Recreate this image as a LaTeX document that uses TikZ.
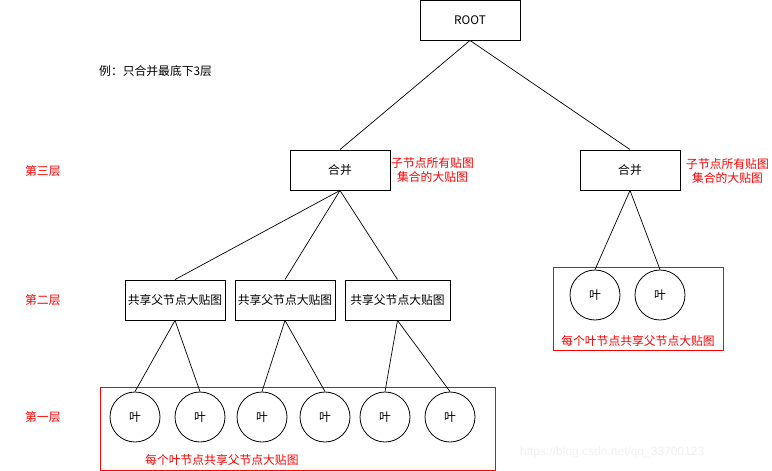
\documentclass[tikz,border=0pt]{standalone}
\usepackage{fontspec}
\setmainfont{Liberation Sans}
\newfontfamily\cjk{Noto Sans CJK SC}
\begin{document}
\begin{tikzpicture}[x=1pt,y=-1pt,
  box/.style={draw=black,line width=0.9pt,minimum width=100pt,minimum height=40pt,inner sep=0pt,font=\cjk\fontsize{11.8}{13}\selectfont},
  leaf/.style={draw=black,circle,line width=0.8pt,minimum size=50pt,inner sep=0pt,font=\cjk\fontsize{11.8}{13}\selectfont},
  redbox/.style={draw=red,line width=0.8pt},
  redtxt/.style={text=red,font=\cjk\fontsize{11.8}{13.5}\selectfont,align=center,inner sep=0pt},
  lbl/.style={font=\cjk\fontsize{11.8}{13}\selectfont,inner sep=0pt},
  edge/.style={draw=black,line width=0.7pt}]
\useasboundingbox (0,0) rectangle (772,471);
% red group boxes
\node[redbox,minimum width=395pt,minimum height=83pt,inner sep=0pt] (grpL) at (297.5,428.5) {};
\node[redbox,minimum width=170pt,minimum height=83pt,inner sep=0pt] (grpR) at (638,308.5) {};
% nodes
\node[box] (root) at (470,20) {ROOT};
\node[box] (mL) at (340,170) {合并};
\node[box] (mR) at (630,170) {合并};
\node[box] (s1) at (175,300) {共享父节点大贴图};
\node[box] (s2) at (285,300) {共享父节点大贴图};
\node[box,minimum width=105pt] (s3) at (397.5,300) {共享父节点大贴图};
\node[leaf] (l1) at (135,417) {叶};
\node[leaf] (l2) at (200,417) {叶};
\node[leaf] (l3) at (262,417) {叶};
\node[leaf] (l4) at (325,417) {叶};
\node[leaf] (l5) at (385,417) {叶};
\node[leaf] (l6) at (450,417) {叶};
\node[leaf] (r1) at (595,295) {叶};
\node[leaf] (r2) at (660,295) {叶};
% edges
\draw[edge] (root.south) -- (mL.north);
\draw[edge] (root.south) -- (mR.north);
\draw[edge] (mL.south) -- (s1.north);
\draw[edge] (mL.south) -- (s2.north);
\draw[edge] (mL.south) -- (s3.north);
\draw[edge] (s1.south) -- (l1.north);
\draw[edge] (s1.south) -- (l2.north);
\draw[edge] (s2.south) -- (l3.north);
\draw[edge] (s2.south) -- (l4.north);
\draw[edge] (s3.south) -- (l5.north);
\draw[edge] (s3.south) -- (l6.north);
\draw[edge] (mR.south) -- (r1.north);
\draw[edge] (mR.south) -- (r2.north);
% texts
\node[lbl,anchor=west] (note) at (99,71) {例：只合并最底下3层};
\node[redtxt,anchor=west] (t3) at (25,171) {第三层};
\node[redtxt,anchor=west] (t2) at (25,300) {第二层};
\node[redtxt,anchor=west] (t1) at (25,417) {第一层};
\node[redtxt,anchor=west] (cL) at (391,170) {子节点所有贴图\\集合的大贴图};
\node[redtxt,anchor=west] (cR) at (686,171) {子节点所有贴图\\集合的大贴图};
\node[redtxt,anchor=west] (gL) at (145,460) {每个叶节点共享父节点大贴图};
\node[redtxt] (gR) at (638,341) {每个叶节点共享父节点大贴图};
\node[font=\fontsize{12}{14}\selectfont,text=black!6,inner sep=0pt,anchor=west] (wm) at (520,452) {https://blog.csdn.net/qq\_33700123};
\end{tikzpicture}
\end{document}
